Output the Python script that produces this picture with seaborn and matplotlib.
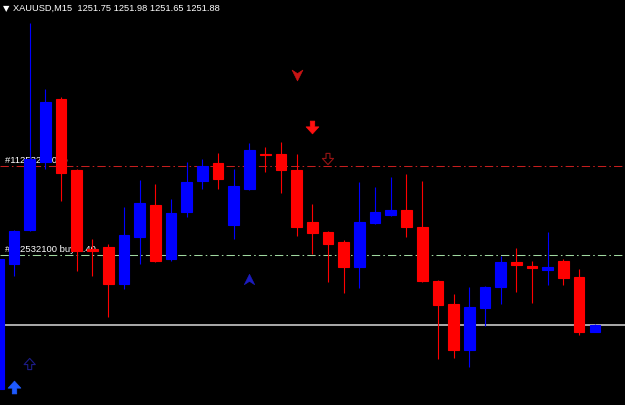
import numpy as np
import pandas as pd
import matplotlib
matplotlib.use("Agg")
import matplotlib.pyplot as plt
import seaborn as sns
from matplotlib.path import Path
from matplotlib.transforms import blended_transform_factory

# XAUUSD M15 candles
opens = [1250.60, 1253.10, 1253.78, 1255.14, 1256.40, 1254.98, 1253.40, 1253.44, 1252.70, 1253.64,
         1254.28, 1253.20, 1254.14, 1254.76, 1255.12, 1253.88, 1254.60, 1255.30, 1255.30, 1254.98,
         1253.94, 1253.74, 1253.54, 1253.04, 1253.92, 1254.08, 1254.18, 1253.84, 1252.76, 1252.30,
         1251.38, 1252.22, 1252.64, 1253.14, 1253.06, 1252.98, 1253.16, 1252.84, 1251.75]
highs = [1253.24, 1253.78, 1257.92, 1256.60, 1256.44, 1255.00, 1253.60, 1253.50, 1254.24, 1254.78,
         1254.70, 1254.40, 1255.14, 1255.20, 1255.32, 1255.00, 1255.52, 1255.44, 1255.54, 1255.30,
         1254.30, 1253.76, 1253.58, 1254.74, 1254.64, 1254.84, 1254.90, 1254.76, 1252.78, 1252.50,
         1252.64, 1252.66, 1253.26, 1253.42, 1253.16, 1253.74, 1253.20, 1253.00, 1251.90]
lows = [1250.56, 1252.86, 1253.76, 1255.00, 1254.36, 1252.96, 1252.86, 1252.04, 1252.60, 1253.10,
        1253.14, 1253.16, 1254.04, 1254.60, 1254.60, 1253.60, 1254.58, 1254.94, 1254.52, 1253.66,
        1253.30, 1252.74, 1252.52, 1252.62, 1253.90, 1254.06, 1253.64, 1252.74, 1251.20, 1251.22,
        1251.04, 1251.86, 1252.30, 1252.54, 1252.32, 1252.68, 1252.68, 1251.68, 1251.74]
closes = [1253.20, 1253.76, 1255.20, 1256.34, 1254.92, 1253.36, 1253.36, 1252.70, 1253.68, 1254.32,
          1253.16, 1254.12, 1254.74, 1255.06, 1254.80, 1254.66, 1255.38, 1255.28, 1254.98, 1253.84,
          1253.72, 1253.50, 1253.04, 1253.94, 1254.14, 1254.18, 1253.84, 1252.76, 1252.28, 1251.38,
          1252.24, 1252.64, 1253.14, 1253.08, 1253.02, 1253.04, 1252.82, 1251.74, 1251.88]

# order / price levels
tp_level = 1255.06
open_level = 1253.28
bid_level = 1251.88
tp_label = "#112532100 tp"
open_label = "#112532100 buy 0.40"
header = "XAUUSD,M15  1251.75 1251.98 1251.65 1251.88"

# indicator arrows (bar index, price)
sell_chevron_bar, sell_chevron_price = [19], [1256.88]
sell_arrow_bar, sell_arrow_price = [20], [1255.84]
sell_hollow_bar, sell_hollow_price = [21], [1255.20]
buy_chevron_bar, buy_chevron_price = [16], [1252.80]
buy_hollow_bar, buy_hollow_price = [2], [1251.10]
buy_arrow_bar, buy_arrow_price = [1], [1250.64]

df = pd.DataFrame({"open": opens, "high": highs, "low": lows, "close": closes})
df["bar"] = np.arange(len(df))
df["bull"] = df["close"] >= df["open"]
df["color"] = np.where(df["bull"], "#0000ff", "#ff0000")

sns.set_theme(style="dark", rc={"axes.facecolor": "black", "figure.facecolor": "black",
                                "axes.edgecolor": "black", "axes.grid": False})
plt.rcParams["font.family"] = ["Liberation Sans", "DejaVu Sans"]

fig = plt.figure(figsize=(6.25, 4.06), dpi=100)
ax = fig.add_axes([0, 0, 1, 1])
ax.set_facecolor("black")

# level lines and their labels (behind candles)
ax.axhline(tp_level, color="#c41e1e", lw=0.75, ls=(0, (8, 3, 1.5, 3)), zorder=1)
ax.axhline(open_level, color="#a0d8a0", lw=0.75, ls=(0, (8, 3, 1.5, 3)), zorder=1)
ax.axhline(bid_level, color="#c8c8c8", lw=1.2, zorder=1)
tr = blended_transform_factory(ax.transAxes, ax.transData)
ax.text(0.008, tp_level + 0.05, tp_label, transform=tr, color="white", fontsize=6.8,
        va="bottom", ha="left", zorder=1)
ax.text(0.008, open_level + 0.05, open_label, transform=tr, color="white", fontsize=6.8,
        va="bottom", ha="left", zorder=1)

# candles
ax.vlines(df["bar"], df["low"], df["high"], colors=df["color"], lw=0.8, zorder=2)
body_lo = df[["open", "close"]].min(axis=1)
body_h = (df["open"] - df["close"]).abs()
ax.bar(df["bar"], body_h, bottom=body_lo, width=0.68, color=df["color"],
       edgecolor=df["color"], linewidth=0.8, zorder=3)

# arrow marker shapes
chev_down = Path([(-1, 1), (0, -1), (1, 1), (0, 0.35), (-1, 1)],
                 [Path.MOVETO, Path.LINETO, Path.LINETO, Path.LINETO, Path.CLOSEPOLY])
chev_up = Path([(-1, -1), (0, 1), (1, -1), (0, -0.35), (-1, -1)],
               [Path.MOVETO, Path.LINETO, Path.LINETO, Path.LINETO, Path.CLOSEPOLY])
arr_down = Path([(-0.35, 1), (0.35, 1), (0.35, 0.1), (1, 0.1), (0, -1), (-1, 0.1), (-0.35, 0.1), (-0.35, 1)],
                [Path.MOVETO] + [Path.LINETO] * 6 + [Path.CLOSEPOLY])
arr_up = Path([(-0.35, -1), (0.35, -1), (0.35, -0.1), (1, -0.1), (0, 1), (-1, -0.1), (-0.35, -0.1), (-0.35, -1)],
              [Path.MOVETO] + [Path.LINETO] * 6 + [Path.CLOSEPOLY])

sns.scatterplot(x=sell_chevron_bar, y=sell_chevron_price, marker=chev_down, s=60,
                color="#c81414", edgecolor="#c81414", linewidth=0.5, ax=ax, zorder=4)
sns.scatterplot(x=sell_arrow_bar, y=sell_arrow_price, marker=arr_down, s=85,
                color="#ff1010", edgecolor="#ff1010", linewidth=0.5, ax=ax, zorder=4)
ax.scatter(sell_hollow_bar, sell_hollow_price, marker=arr_down, s=65,
           facecolors="none", edgecolors="#961414", linewidths=0.8, zorder=4)
sns.scatterplot(x=buy_chevron_bar, y=buy_chevron_price, marker=chev_up, s=55,
                color="#1c1cc0", edgecolor="#1c1cc0", linewidth=0.5, ax=ax, zorder=4)
ax.scatter(buy_hollow_bar, buy_hollow_price, marker=arr_up, s=65,
           facecolors="none", edgecolors="#1c1c88", linewidths=0.8, zorder=4)
sns.scatterplot(x=buy_arrow_bar, y=buy_arrow_price, marker=arr_up, s=85,
                color="#1e5aff", edgecolor="#1e5aff", linewidth=0.5, ax=ax, zorder=4)

ax.set_xlim(0.108, 39.92)
ax.set_ylim(1250.28, 1258.40)
ax.set_xticks([])
ax.set_yticks([])
for s in ax.spines.values():
    s.set_visible(False)

# chart header
ax.text(0.005, 0.980, "▼", transform=ax.transAxes, color="white", fontsize=6,
        va="center", ha="left", family=["DejaVu Sans"])
ax.text(0.021, 0.980, header, transform=ax.transAxes, color="white", fontsize=6.7,
        va="center", ha="left")

fig.savefig("out.png", dpi=100, facecolor="black")
